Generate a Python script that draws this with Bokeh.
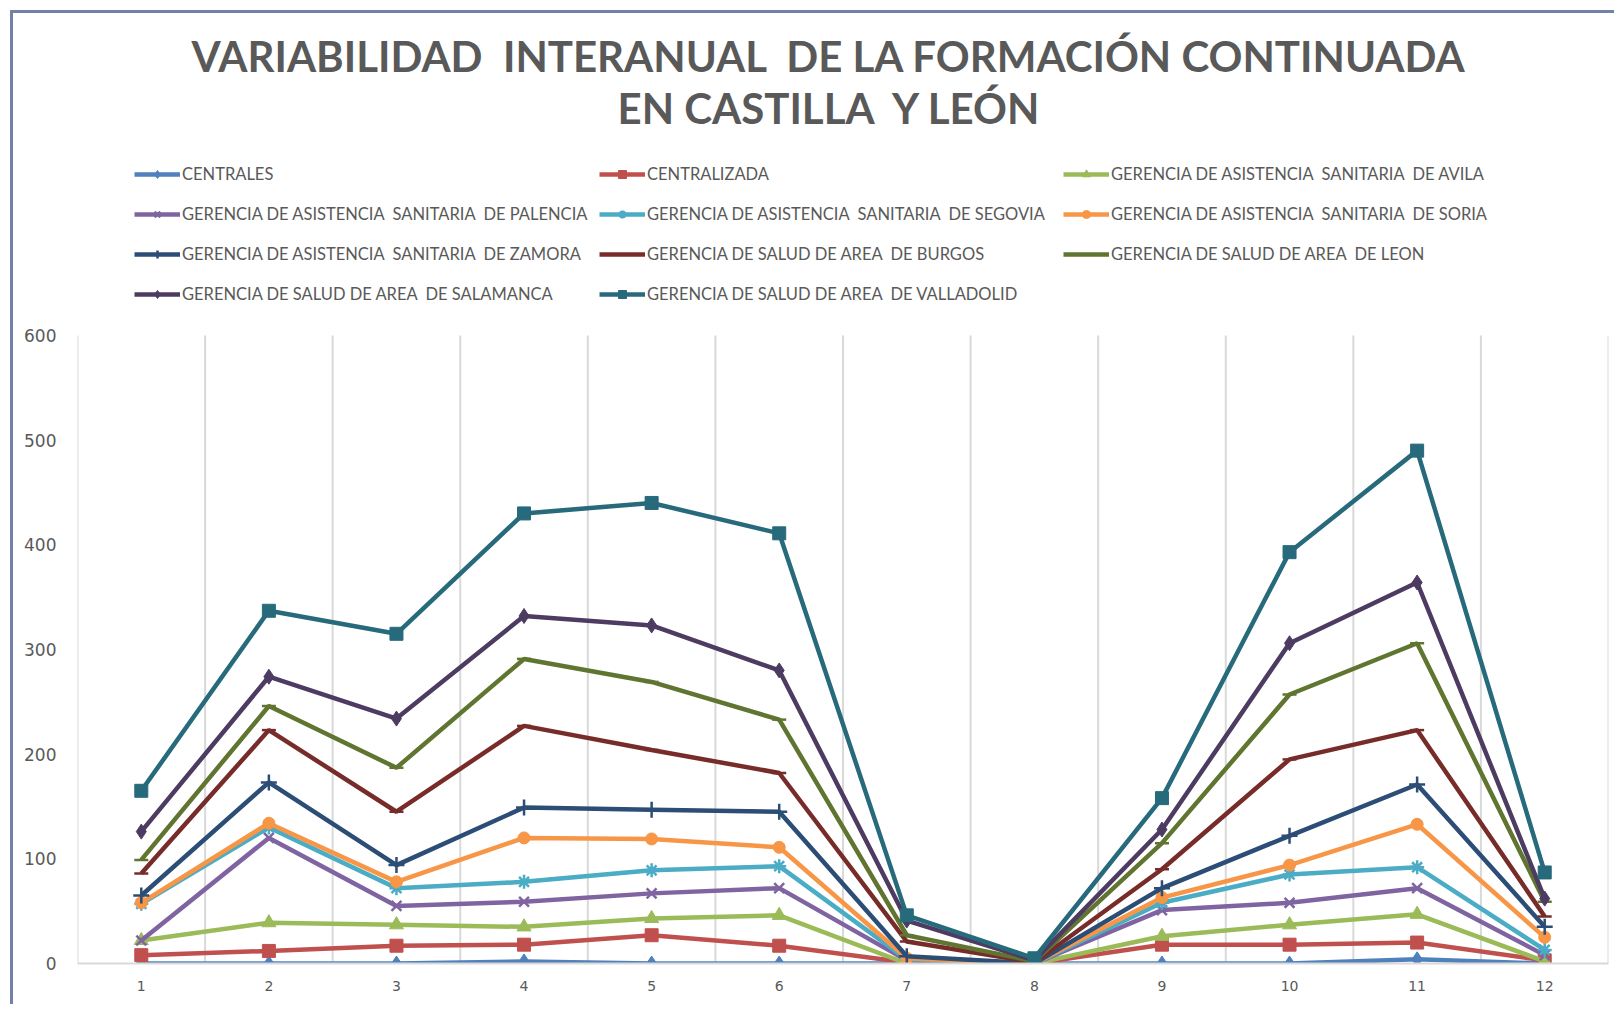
from bokeh.plotting import figure
from bokeh.models import Legend, LegendItem, Title, FixedTicker
from bokeh.embed import file_html
from bokeh.resources import INLINE

NB = "\u00a0"

months = list(range(1, 13))
tick_labels = [str(m) for m in months]
y_ticks = [0, 100, 200, 300, 400, 500, 600]
grid_x = [0.5 + i for i in range(13)]

centrales = [0, 0, 0, 2, 0, 0, 0, 0, 0, 0, 4, 0]
centralizada = [8, 12, 17, 18, 27, 17, 1, 0, 18, 18, 20, 3]
avila = [22, 39, 37, 35, 43, 46, 0, 0, 26, 37, 47, 2]
palencia = [22, 120, 55, 59, 67, 72, 3, 0, 51, 58, 72, 8]
segovia = [57, 130, 72, 78, 89, 93, 4, 0, 58, 85, 92, 13]
soria = [58, 134, 78, 120, 119, 111, 5, 0, 63, 94, 133, 25]
zamora = [65, 173, 94, 149, 147, 145, 7, 0, 72, 122, 171, 35]
burgos = [86, 223, 145, 227, 204, 182, 21, 1, 90, 195, 223, 45]
leon = [99, 246, 187, 291, 269, 233, 27, 2, 115, 257, 306, 59]
salamanca = [126, 274, 234, 332, 323, 280, 41, 3, 128, 306, 364, 62]
valladolid = [165, 337, 315, 430, 440, 411, 46, 5, 158, 393, 490, 87]

series_names = [
    "CENTRALES",
    "CENTRALIZADA",
    "GERENCIA DE ASISTENCIA  SANITARIA  DE AVILA",
    "GERENCIA DE ASISTENCIA  SANITARIA  DE PALENCIA",
    "GERENCIA DE ASISTENCIA  SANITARIA  DE SEGOVIA",
    "GERENCIA DE ASISTENCIA  SANITARIA  DE SORIA",
    "GERENCIA DE ASISTENCIA  SANITARIA  DE ZAMORA",
    "GERENCIA DE SALUD DE AREA  DE BURGOS",
    "GERENCIA DE SALUD DE AREA  DE LEON",
    "GERENCIA DE SALUD DE AREA  DE SALAMANCA",
    "GERENCIA DE SALUD DE AREA  DE VALLADOLID",
]
series_values = [centrales, centralizada, avila, palencia, segovia, soria, zamora,
                 burgos, leon, salamanca, valladolid]
series_colors = ["#4F81BD", "#C0504D", "#9BBB59", "#8064A2", "#4BACC6", "#F79646",
                 "#2C4D75", "#772C2A", "#5F7530", "#4D3B62", "#276A7C"]
series_markers = [("diamond", 15), ("square", 13), ("triangle", 14), ("x", 14),
                  ("asterisk", 14), ("circle", 12), ("cross", 16), ("dash", 14),
                  ("dash", 14), ("diamond", 15), ("square", 13)]

p = figure(width=1604, height=994, output_backend="svg", toolbar_location=None,
           x_range=(0.5, 12.5), y_range=(0, 793.95), title=None,
           min_border_left=64, min_border_right=9, min_border_top=119, min_border_bottom=44)
p.styles = {"margin-left": "10px", "margin-top": "10px",
            "border-left": "3px solid #7381a9", "border-top": "3px solid #7381a9"}
p.outline_line_color = None
p.xgrid.grid_line_color = None
p.ygrid.grid_line_color = None

# vertical category-boundary gridlines from 0 to 600
p.segment(x0=grid_x, y0=[0] * len(grid_x), x1=grid_x, y1=[y_ticks[-1]] * len(grid_x),
          line_color="#d9d9d9", line_width=2)

p.xaxis.ticker = FixedTicker(ticks=months)
p.xaxis.major_label_overrides = {m: l for m, l in zip(months, tick_labels)}
p.xaxis.axis_line_color = "#d9d9d9"
p.xaxis.axis_line_width = 2
p.xaxis.major_tick_line_color = None
p.xaxis.minor_tick_line_color = None
p.xaxis.major_label_standoff = 11
p.xaxis.major_label_text_font = "DejaVu Sans"
p.xaxis.major_label_text_font_size = "14px"
p.xaxis.major_label_text_color = "#595959"

p.yaxis.ticker = FixedTicker(ticks=y_ticks)
p.yaxis.axis_line_color = None
p.yaxis.major_tick_line_color = None
p.yaxis.minor_tick_line_color = None
p.yaxis.major_label_standoff = 15
p.yaxis.major_label_text_font = "DejaVu Sans"
p.yaxis.major_label_text_font_size = "17px"
p.yaxis.major_label_text_color = "#595959"

items = []
for name, vals, color, (marker, size) in zip(series_names, series_values,
                                             series_colors, series_markers):
    lr = p.line(months, vals, line_color=color, line_width=4.5)
    sr = p.scatter(months, vals, marker=marker, size=size, fill_color=color,
                   line_color=color,
                   line_width=2.5 if marker in ("x", "asterisk", "cross", "dash") else 1)
    items.append(LegendItem(label=name.replace("  ", NB + NB), renderers=[lr, sr]))

# legend laid out as 3 columns, row-major order like the original
columns = [items[0::3], items[1::3], items[2::3]]
col_x = [57, 522, 986]
for col_items, cx in zip(columns, col_x):
    ly = 659 if len(col_items) == 4 else 699
    lg = Legend(items=col_items, location=(cx, ly), orientation="vertical",
                margin=0, padding=0, spacing=20,
                glyph_width=46, glyph_height=20, label_height=20, label_standoff=2,
                label_text_font="Lato", label_text_font_size="16.5px",
                label_text_color="#595959",
                border_line_color=None, background_fill_alpha=0)
    p.add_layout(lg, "center")

t2 = Title(text="EN CASTILLA" + NB + NB + "Y LEÓN", align="left", offset=540, standoff=0,
           text_font="Lato", text_font_style="bold", text_font_size="42px",
           text_color="#595959")
t1 = Title(text="VARIABILIDAD" + NB + NB + "INTERANUAL" + NB + NB + "DE LA FORMACIÓN CONTINUADA",
           align="left", offset=114, standoff=0,
           text_font="Lato", text_font_style="bold", text_font_size="42px",
           text_color="#595959")
p.add_layout(t2, "above")
p.add_layout(t1, "above")

open("out.html", "w").write(file_html(p, INLINE))
